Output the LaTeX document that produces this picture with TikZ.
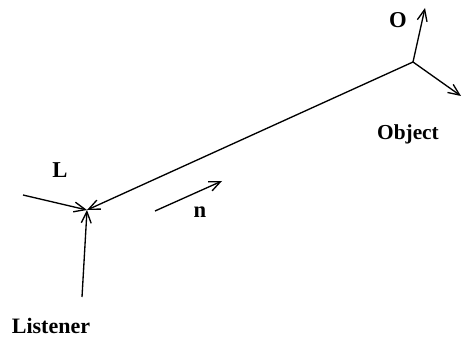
\documentclass[tikz,border=0pt]{standalone}
\usepackage{fontspec}
\usepackage{tikz}
\usetikzlibrary{arrows.meta,positioning}
\setmainfont{Liberation Serif}
\tikzset{
  vec/.style={-{Straight Barb[length=3mm,width=2.6mm]},line width=1pt,black},
  lbl/.style={font=\fontsize{17}{19}\selectfont\bfseries,inner sep=1pt}
}

\begin{document}
\begin{tikzpicture}[x=0.75pt,y=-0.75pt]
  \useasboundingbox (0,0) rectangle (463,338);
  \coordinate (listener) at (87,210);
  \coordinate (object) at (413,62);
  \coordinate (lin) at (23,195);
  \coordinate (lbot) at (82,297);
  \coordinate (otop) at (425,8);
  \coordinate (oright) at (461,96);
  \coordinate (nstart) at (155,211);
  \coordinate (nend) at (222,181);

  \node[lbl] (llabel) at (60,170) {L};
  \node[lbl] (nlabel) at (200,212) {n};
  \node[lbl] (olabel) at (398,20) {O};
  \node[lbl,font=\fontsize{16}{18}\selectfont\bfseries] (objlabel) at (408,134) {Object};
  \node[lbl,font=\fontsize{16.5}{18}\selectfont\bfseries] (lstlabel) at (51,326) {Listener};

  \draw[vec] (object) -- (listener);
  \draw[vec] (lin) -- (listener);
  \draw[vec] (lbot) -- (listener);
  \draw[vec] (nstart) -- (nend);
  \draw[vec] (object) -- (otop);
  \draw[vec] (object) -- (oright);
\end{tikzpicture}
\end{document}
